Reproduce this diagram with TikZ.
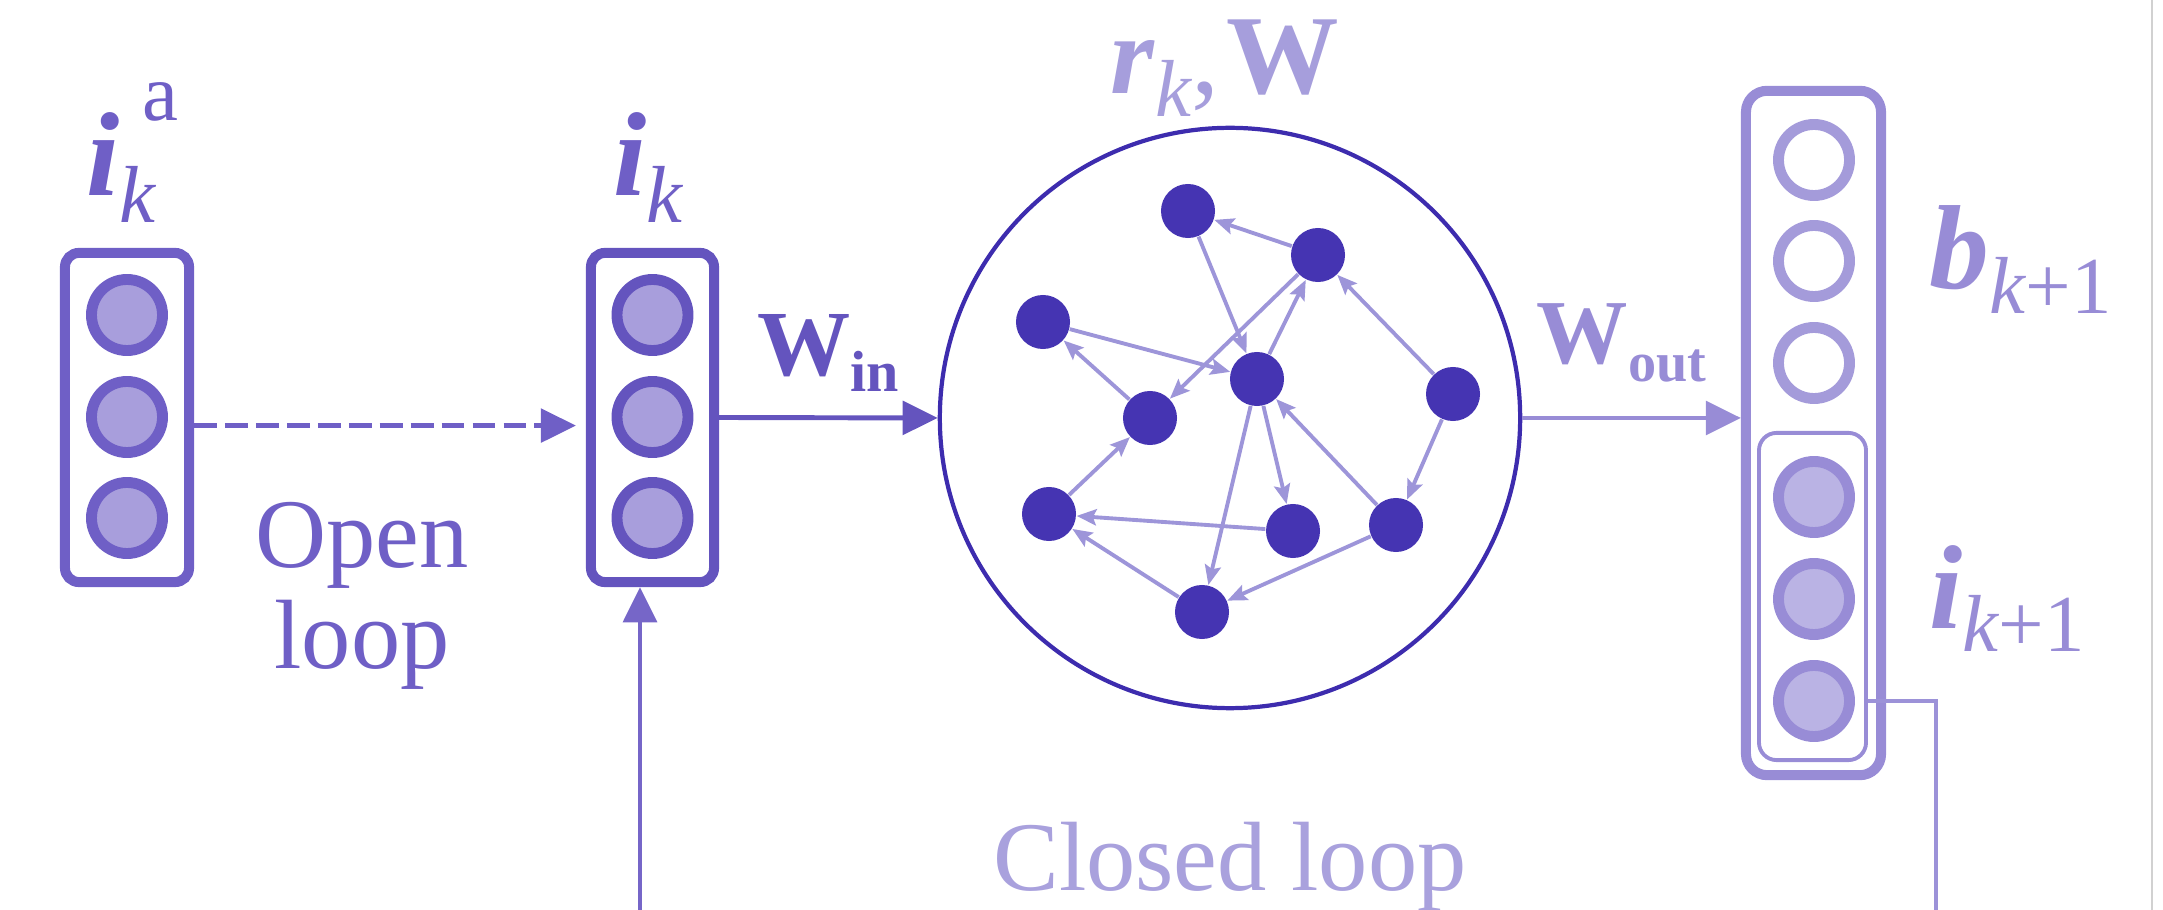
\documentclass[tikz,border=0pt]{standalone}
\usepackage{fontspec}
\setmainfont{Liberation Serif}
\usetikzlibrary{arrows.meta}
\definecolor{inpurple}{HTML}{6F5FC6}
\definecolor{indark}{HTML}{6454BE}
\definecolor{infill}{HTML}{A89EDC}
\definecolor{resring}{HTML}{3D2CAE}
\definecolor{resnode}{HTML}{4534B2}
\definecolor{resedge}{HTML}{9D95D9}
\definecolor{reslabel}{HTML}{A69EDC}
\definecolor{outpurple}{HTML}{988CD6}
\definecolor{outring}{HTML}{A49BDA}
\definecolor{outfill}{HTML}{BAB3E4}
\definecolor{closedtext}{HTML}{A9A1DD}
\definecolor{fbdark}{HTML}{7666C8}
\definecolor{fblight}{HTML}{9C92D8}
\newcommand{\bvec}[1]{\textbf{\textit{#1}}}
\newcommand{\subfont}{\fontsize{23}{23}\selectfont}

\begin{document}
\begin{tikzpicture}[x=0.01cm, y=-0.01cm,
    vecbox/.style={draw, rectangle, rounded corners=4pt, line width=2.85pt, inner sep=0pt},
    ringcell/.style={draw, circle, line width=3.1pt, minimum size=0.71cm, inner sep=0pt},
    resunit/.style={circle, fill=resnode, minimum size=0.54cm, inner sep=0pt},
    bigtip/.style={-{Triangle[length=10pt,width=9.5pt]}},
    resarrow/.style={draw=resedge, line width=1.1pt, -{Stealth[length=5.6pt,width=4.6pt,inset=1pt]}},
    symlabel/.style={anchor=base west, inner sep=0pt, font=\fontsize{34}{34}\selectfont},
    looptext/.style={inner sep=0pt, font=\fontsize{28}{28.5}\selectfont}]

  \useasboundingbox (0,0) rectangle (2163,910);
  \clip (0,0) rectangle (2163,910);
  \draw[black!18, line width=0.6pt] (2152,0) -- (2152,910);

  \node[vecbox, draw=inpurple, minimum width=1.24cm, minimum height=3.29cm] (abox) at (127,417.5) {};
  \node[vecbox, draw=indark, minimum width=1.23cm, minimum height=3.29cm] (ibox) at (652.5,417.5) {};
  \foreach \j/\y in {1/315, 2/417, 3/518} {
    \node[ringcell, draw=inpurple, fill=infill] (a\j) at (127,\y) {};
    \node[ringcell, draw=indark, fill=infill] (i\j) at (652.5,\y) {};
  }
  \node[symlabel, text=inpurple] (alabel) at (86,196)
    {\bvec{i}\rlap{\raisebox{-7.4pt}{\subfont\itshape k}}\kern6.5pt\raisebox{21.6pt}{\subfont a}};
  \node[symlabel, text=inpurple] (ilabel) at (613,196) {\bvec{i}\raisebox{-7.4pt}{\subfont\itshape k}};
  \draw[inpurple, line width=1.4pt, dash pattern=on 6.5pt off 2.3pt, bigtip, shorten >=0.1cm]
    ([yshift=-2.3pt]abox.east) -- ([yshift=-2.3pt]ibox.west);
  \node[looptext, text=inpurple, anchor=north, align=center] (openlbl) at (362,502) {Open\\loop};

  \node[draw=resring, circle, line width=1.2pt, minimum size=5.8cm, inner sep=0pt] (res) at (1230,418) {};
  \foreach \n/\x/\y in {1/1188/211, 2/1318/255, 3/1043/322, 4/1257/379, 5/1453/394,
      6/1150/418, 7/1049/514, 8/1293/531, 9/1396/525, 10/1202/612}
    \node[resunit] (r\n) at (\x,\y) {};
  \foreach \a/\b in {2/1, 1/4, 2/6, 4/2, 5/2, 3/4, 6/3, 7/6, 4/8, 4/10, 9/4, 5/9, 8/7, 10/7, 9/10}
    \draw[resarrow] (r\a) -- (r\b);
  \node[symlabel, text=reslabel, font=\fontsize{32}{32}\selectfont] (rlabel) at (1110,94)
    {\bvec{r}\raisebox{-6.3pt}{\subfont\itshape k},\kern2pt\textbf{W}};

  \node[vecbox, draw=outpurple, rounded corners=6pt, minimum width=1.35cm, minimum height=6.84cm] (obox) at (1813.5,433) {};
  \node[draw=outpurple, rounded corners=5pt, line width=1.1pt, minimum width=1.07cm, minimum height=3.27cm, inner sep=0pt] (inbox) at (1812.5,596.5) {};
  \foreach \j/\y in {1/160, 2/261, 3/363}
    \node[ringcell, draw=outring, fill=white] (o\j) at (1814,\y) {};
  \foreach \j/\y in {4/497, 5/599, 6/701}
    \node[ringcell, draw=outpurple, fill=outfill] (o\j) at (1814,\y) {};
  \node[symlabel, text=outpurple] (blabel) at (1929,289) {\bvec{b}\raisebox{-7.1pt}{\subfont\itshape k\upshape +1}};
  \node[symlabel, text=outpurple] (i1label) at (1929,629) {\bvec{i}\raisebox{-6.5pt}{\subfont\itshape k\upshape +1}};

  \draw[indark, line width=1.4pt, bigtip] (ibox.east) -- node[above=0.24cm, inner sep=0pt, font=\fontsize{26.5}{26.5}\selectfont]
    {\textbf{W}\raisebox{-4.5pt}{\fontsize{16.5}{16.5}\selectfont\bfseries in}} (res.west);
  \draw[outpurple, line width=1.4pt, bigtip] (res.east) -- node[above=0.33cm, xshift=-0.1cm, inner sep=0pt, font=\fontsize{26}{26}\selectfont]
    {\textbf{W}\raisebox{-5.1pt}{\fontsize{16}{16}\selectfont\bfseries out}} (res.east -| obox.west);

  \coordinate (fbr) at (1936,960);
  \coordinate (fbl) at (640,960);
  \draw[fblight, line width=1.1pt] (inbox.east |- o6) -| (fbr) -- (fbl);
  \draw[fbdark, line width=1.4pt, bigtip] (fbl) -- (fbl |- ibox.south);
  \node[looptext, text=closedtext, anchor=base] (closedlbl) at (1230,890) {Closed loop};
\end{tikzpicture}
\end{document}
